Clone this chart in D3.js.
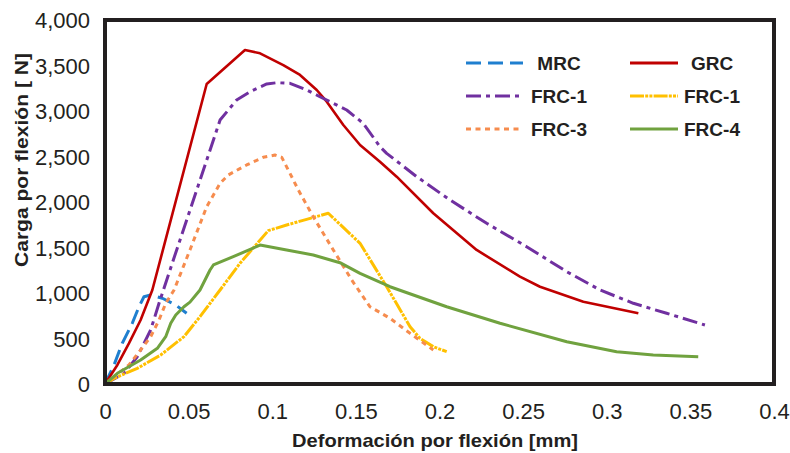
<!DOCTYPE html>
<html>
<head>
<meta charset="utf-8">
<script src="https://cdn.jsdelivr.net/npm/d3@7"></script>
<style>
  html, body { margin: 0; padding: 0; background: #fff; }
  svg { display: block; }
</style>
</head>
<body>
<svg id="chart" width="790" height="453"></svg>
<script>
// ---- data (deformation mm, load N) ----
const mrc = [[0,0],[0.0054,209],[0.0103,447],[0.0163,667],[0.0203,849],[0.0233,959],[0.0273,978],[0.0343,942],
  [0.0423,868],[0.0488,777]];
const grc = [[0,0],[0.0074,209],[0.0143,447],[0.0213,703],[0.0283,1033],[0.0608,3297],[0.0837,3670],[0.0927,3634],
  [0.1066,3505],[0.1166,3396],[0.1266,3231],[0.1326,3102],[0.1425,2846],[0.1525,2626],[0.1644,2443],[0.1744,2278],
  [0.1963,1876],[0.2222,1473],[0.2481,1179],[0.2601,1069],[0.286,904],[0.3189,777]];
const frc1 = [[0,0],[0.0114,118],[0.0193,300],[0.0273,593],[0.0323,887],[0.0408,1360],[0.0508,1910],[0.0608,2460],
  [0.0688,2901],[0.0787,3121],[0.0867,3212],[0.0967,3297],[0.1027,3311],[0.1106,3304],[0.1206,3231],[0.1285,3157],
  [0.1445,3011],[0.1544,2865],[0.1644,2608],[0.1684,2535],[0.1864,2278],[0.2063,2022],[0.2282,1766],[0.2521,1509],
  [0.2761,1234],[0.296,1033],[0.3159,887],[0.3358,777],[0.3587,648]];
const frc1b = [[0,0],[0.0054,62],[0.0193,172],[0.0333,319],[0.0472,520],[0.0568,740],[0.0688,1033],[0.0807,1326],
  [0.0976,1685],[0.1086,1747],[0.1335,1876],[0.1525,1546],[0.1684,1069],[0.1824,630],[0.1883,502],[0.1963,410],[0.2043,355]];
const frc3 = [[0,0],[0.0143,209],[0.0213,374],[0.0273,520],[0.0323,703],[0.0363,887],[0.0413,1033],[0.0508,1473],
  [0.0608,1948],[0.0688,2205],[0.0737,2297],[0.0847,2407],[0.0946,2491],[0.1016,2516],[0.1057,2491],[0.1106,2315],
  [0.1156,2132],[0.1245,1838],[0.1365,1473],[0.1475,1143],[0.1584,849],[0.1704,722],[0.1824,557],[0.1963,374]];
const frc4 = [[0,0],[0.0074,118],[0.0213,264],[0.0313,392],[0.0363,520],[0.0393,667],[0.0423,758],[0.0472,849],
  [0.0508,900],[0.0568,1033],[0.0628,1253],[0.0648,1308],[0.0767,1399],[0.0927,1527],[0.1086,1473],[0.1245,1418],
  [0.1405,1333],[0.1525,1216],[0.1704,1069],[0.2043,849],[0.2362,667],[0.2761,465],[0.3059,355],[0.3278,319],[0.3547,300]];

const seriesNames = ["MRC","GRC","FRC-1","FRC-1","FRC-3","FRC-4"];
const seriesData = [mrc, grc, frc1, frc1b, frc3, frc4];
const seriesColors = ["#1f7fcf","#c00000","#7030a0","#ffc000","#f68c4e","#70a23f"];
const seriesDash = ["15,7","none","15,5,4,5","14,1.2,3,1.2,3,1.2","5,4.5","none"];

const xTicks = [0,0.05,0.1,0.15,0.2,0.25,0.3,0.35,0.4];
const yTicks = [0,500,1000,1500,2000,2500,3000,3500,4000];
const xTitle = "Deformación por flexión [mm]";
const yTitle = "Carga por flexión [ N]";

// ---- drawing ----
const svg = d3.select("#chart");
const x = d3.scaleLinear().domain([0,0.4]).range([105,774]);
const y = d3.scaleLinear().domain([0,4000]).range([384,20]);
const font = "'Liberation Sans', Arial, sans-serif";
const ink = "#231f20";

// x axis labels
const gx = svg.append("g").attr("transform","translate(0,384)")
  .call(d3.axisBottom(x).tickValues(xTicks).tickSize(0).tickPadding(19).tickFormat(d3.format("~g")));
gx.select(".domain").remove();
gx.selectAll("text").attr("font-family",font).attr("font-size",22).attr("fill",ink);

// y axis labels
const gy = svg.append("g").attr("transform","translate(105,0)")
  .call(d3.axisLeft(y).tickValues(yTicks).tickSize(0).tickPadding(15).tickFormat(d3.format(",")));
gy.select(".domain").remove();
gy.selectAll("text").attr("font-family",font).attr("font-size",22).attr("fill",ink).attr("dy","0.36em");

// series
const line = d3.line().x(d => x(d[0])).y(d => y(d[1]));
seriesData.forEach((data, i) => {
  svg.append("path")
    .datum(data)
    .attr("d", line)
    .attr("fill","none")
    .attr("stroke", seriesColors[i])
    .attr("stroke-width", i === 1 ? 2.6 : 3)
    .attr("stroke-dasharray", seriesDash[i])
    .attr("stroke-linejoin","round");
});

// frame
svg.append("rect")
  .attr("x", x(0)).attr("y", y(4000))
  .attr("width", x(0.4) - x(0)).attr("height", y(0) - y(4000))
  .attr("fill","none").attr("stroke",ink).attr("stroke-width",4);

// axis titles
svg.append("text")
  .attr("x", 435).attr("y", 447)
  .attr("text-anchor","middle")
  .attr("font-family",font).attr("font-weight","bold").attr("font-size",19)
  .attr("textLength",286).attr("lengthAdjust","spacingAndGlyphs")
  .attr("fill",ink).text(xTitle);

svg.append("text")
  .attr("transform","translate(28,160) rotate(-90)")
  .attr("text-anchor","middle")
  .attr("font-family",font).attr("font-weight","bold").attr("font-size",19)
  .attr("textLength",214).attr("lengthAdjust","spacingAndGlyphs")
  .attr("fill",ink).text(yTitle);

// legend
const legCols = [{x1:466, x2:523, tx:559}, {x1:630, x2:678, tx:712}];
const legRows = [63, 96, 129];
const legendOrder = [0,1,2,3,4,5];
legendOrder.forEach((si, k) => {
  const c = legCols[k % 2], ry = legRows[Math.floor(k / 2)];
  const g = svg.append("g");
  g.append("line")
    .attr("x1", c.x1).attr("x2", c.x2).attr("y1", ry).attr("y2", ry)
    .attr("stroke", seriesColors[si]).attr("stroke-width", 3)
    .attr("stroke-dasharray", seriesDash[si]);
  g.append("text")
    .attr("x", c.tx).attr("y", ry).attr("dy","0.36em")
    .attr("text-anchor","middle")
    .attr("font-family",font).attr("font-weight","bold").attr("font-size",19)
    .attr("fill",ink).text(seriesNames[si]);
});
</script>
</body>
</html>
